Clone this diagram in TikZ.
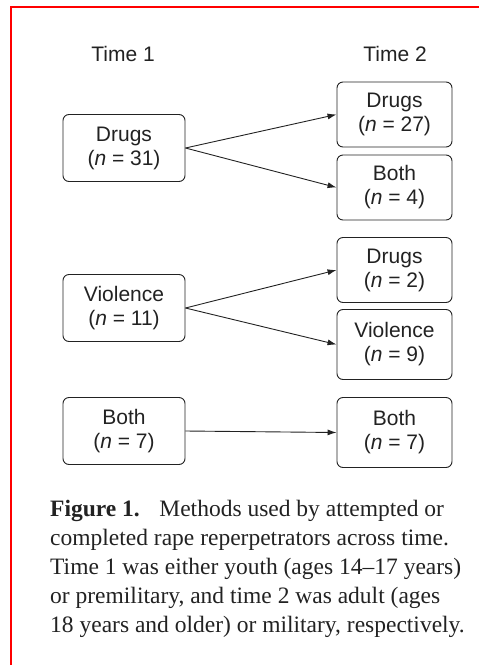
\documentclass[tikz,border=0pt]{standalone}
\usepackage{fontspec}
\setmainfont{Liberation Serif}
\setsansfont{Liberation Sans}
\usetikzlibrary{arrows.meta}
\definecolor{ink}{HTML}{222222}
\tikzset{
  box/.style={draw=ink, line width=0.9pt, rounded corners=6pt, align=center,
    font=\sffamily\fontsize{21}{24}\selectfont, text=ink, inner sep=0pt},
  lbox/.style={box, minimum width=122pt, minimum height=67pt},
  rbox/.style={box, minimum width=115pt, minimum height=65pt},
  arr/.style={draw=ink, line width=0.9pt, -{Latex[length=9pt,width=6pt]}},
  head/.style={font=\sffamily\fontsize{21}{24}\selectfont, text=ink},
}
\begin{document}
\begin{tikzpicture}[x=1pt,y=-1pt]
\useasboundingbox (0,0) rectangle (479,665);
\draw[red, line width=2pt] (11,666) -- (11,7) -- (480,7);
\node[head] (t1) at (123,54) {Time 1};
\node[head] (t2) at (395,54) {Time 2};
\node[lbox] (ld) at (124,148) {Drugs\\(\textit{n} = 31)};
\node[lbox] (lv) at (124,308) {Violence\\(\textit{n} = 11)};
\node[lbox] (lb) at (124,431) {Both\\(\textit{n} = 7)};
\node[rbox] (rd1) at (394.5,114.5) {Drugs\\(\textit{n} = 27)};
\node[rbox] (rb1) at (394.5,187.5) {Both\\(\textit{n} = 4)};
\node[rbox] (rd2) at (394.5,270) {Drugs\\(\textit{n} = 2)};
\node[rbox, minimum height=70pt] (rv2) at (394.5,344.5) {Violence\\(\textit{n} = 9)};
\node[rbox, minimum height=70pt] (rb2) at (394.5,432.5) {Both\\(\textit{n} = 7)};
\draw[arr] (ld.east) -- (rd1.west);
\draw[arr] (ld.east) -- (rb1.west);
\draw[arr] (lv.east) -- (rd2.west);
\draw[arr] (lv.east) -- (rv2.west);
\draw[arr] (lb.east) -- (rb2.west);
\node[anchor=north west, align=left, inner sep=0pt, text=ink,
  font=\fontsize{23.5}{29}\selectfont] (cap) at (50,500)
  {\textbf{Figure 1.}\hspace{0.5em} Methods used by attempted or\\
   completed rape reperpetrators across time.\\
   Time 1 was either youth (ages 14--17 years)\\
   or premilitary, and time 2 was adult (ages\\
   18 years and older) or military, respectively.};
\end{tikzpicture}
\end{document}
